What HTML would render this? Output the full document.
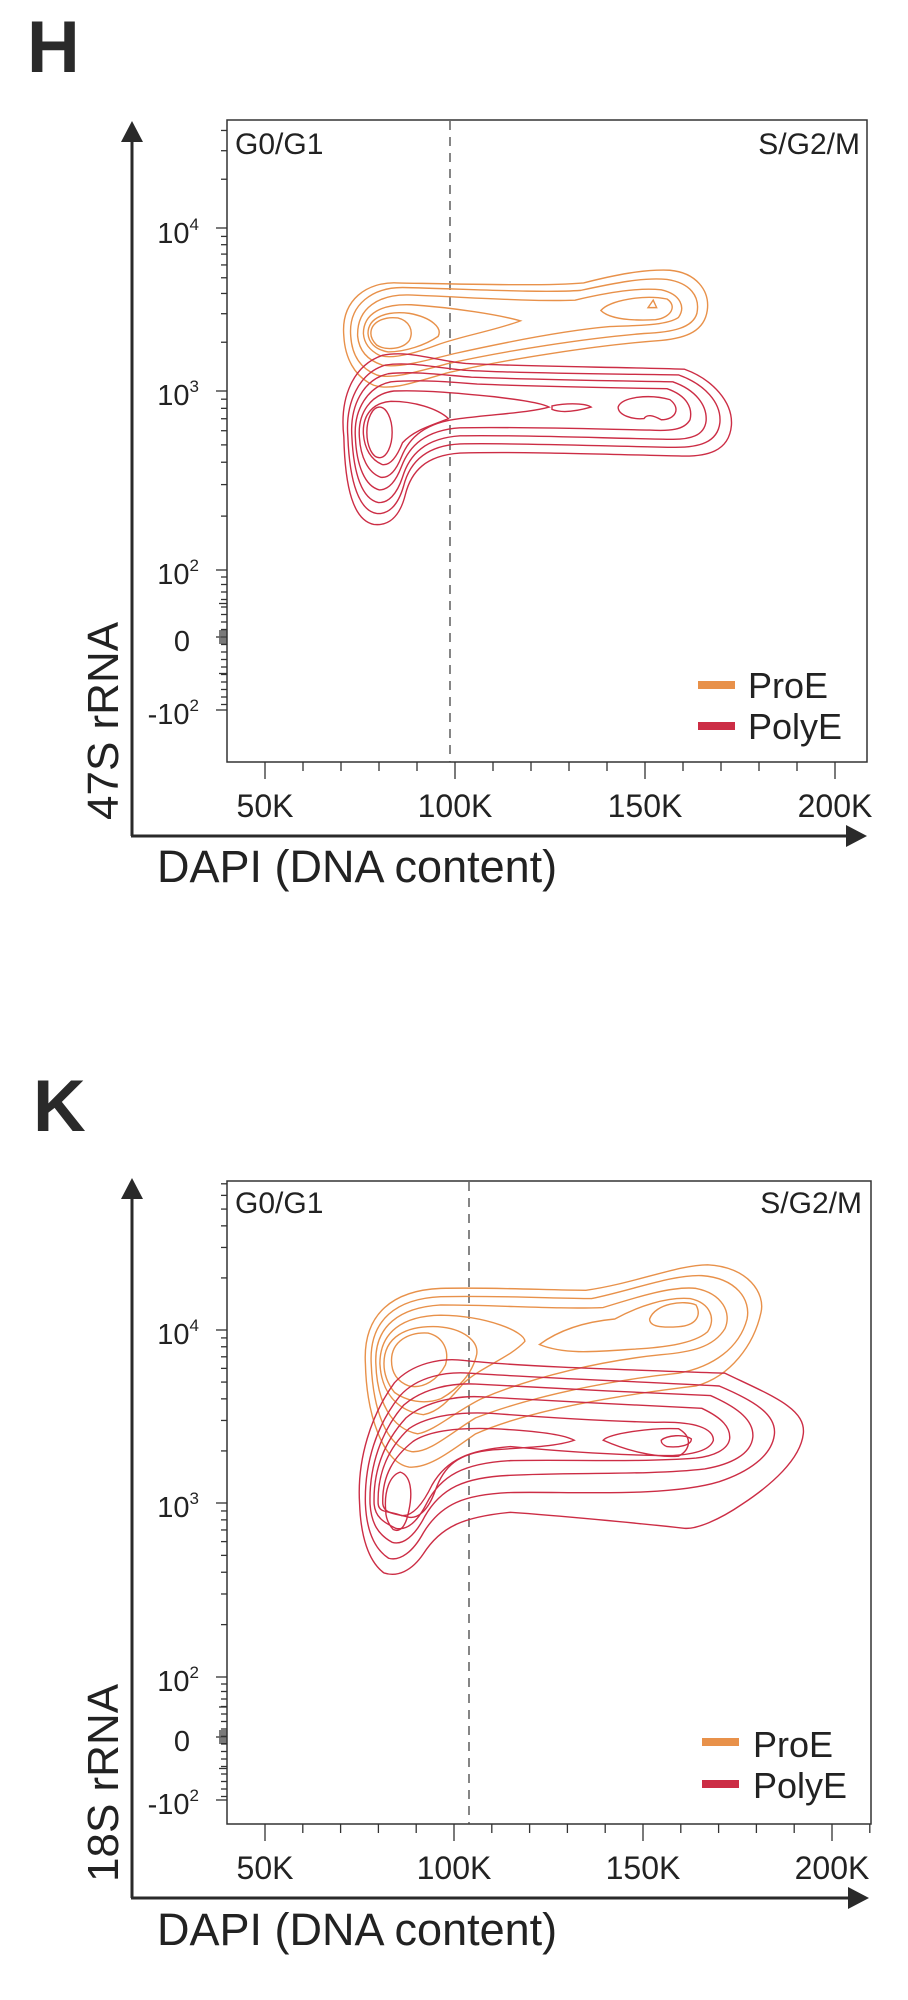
<!DOCTYPE html>
<html><head><meta charset="utf-8"><style>
html,body{margin:0;padding:0;background:#fff;}
svg{display:block;font-family:"Liberation Sans",Arial,sans-serif;}
.o path,.o ellipse{fill:none;stroke:#e8914a;stroke-width:1.4;vector-effect:non-scaling-stroke}
.r path,.r ellipse{fill:none;stroke:#cc2d45;stroke-width:1.4;vector-effect:non-scaling-stroke}
</style></head><body>
<svg id="s" width="908" height="2000" viewBox="0 0 908 2000" xmlns="http://www.w3.org/2000/svg">
<rect width="908" height="2000" fill="#fff"/>
<!-- ===== Panel H ===== -->
<text x="27" y="72" font-size="73" font-weight="bold" fill="#2a2a2a">H</text>
<g id="ticksH" stroke="#333" stroke-width="1.3"></g>
<rect x="227" y="120" width="640" height="642" fill="none" stroke="#333" stroke-width="1.5"/>
<line x1="450" y1="121" x2="450" y2="762" stroke="#444" stroke-width="1.3" stroke-dasharray="9,7"/>
<line x1="132" y1="138" x2="132" y2="836" stroke="#2a2a2a" stroke-width="3"/>
<polygon points="132,121 121,142 143,142" fill="#2a2a2a"/>
<line x1="131" y1="836" x2="850" y2="836" stroke="#2a2a2a" stroke-width="3"/>
<polygon points="867,836 846,825 846,847" fill="#2a2a2a"/>
<g font-size="30" fill="#222">
<text x="235" y="154">G0/G1</text>
<text x="860" y="154" text-anchor="end">S/G2/M</text>
</g>
<g font-size="29" fill="#222" text-anchor="end">
<text x="199" y="243">10<tspan font-size="17" dy="-13">4</tspan></text>
<text x="199" y="405">10<tspan font-size="17" dy="-13">3</tspan></text>
<text x="199" y="584">10<tspan font-size="17" dy="-13">2</tspan></text>
<text x="190" y="651">0</text>
<text x="199" y="724">-10<tspan font-size="17" dy="-13">2</tspan></text>
</g>
<g font-size="32" fill="#222" text-anchor="middle">
<text x="265" y="817">50K</text>
<text x="455" y="817">100K</text>
<text x="645" y="817">150K</text>
<text x="835" y="817">200K</text>
</g>
<text x="157" y="882" font-size="45" fill="#222">DAPI (DNA content)</text>
<text transform="translate(118,820) rotate(-90)" font-size="44" fill="#222">47S rRNA</text>
<rect x="698" y="681" width="37" height="8" fill="#e8914a"/>
<rect x="698" y="722" width="37" height="8" fill="#cc2d45"/>
<g font-size="36" fill="#222">
<text x="748" y="698">ProE</text>
<text x="748" y="739">PolyE</text>
</g>
<g transform="scale(0.575)">
<g class="o">
<path d="M598,585 C592,520 640,490 690,492 C800,494 950,498 1015,492 C1070,478 1120,468 1165,470 C1210,474 1235,505 1230,540 C1225,575 1195,588 1150,592 C1040,600 880,625 780,648 C720,665 680,680 650,670 C615,655 600,620 598,585Z"/>
<path d="M610,585 C605,528 650,500 700,500 C800,502 940,510 1010,505 C1070,492 1120,482 1160,486 C1200,492 1218,515 1212,545 C1205,570 1170,578 1120,580 C1020,588 880,610 780,632 C720,648 680,660 655,652 C625,640 612,615 610,585Z"/>
<path d="M622,585 C620,535 660,512 710,513 C800,516 920,525 1000,522 C1060,508 1110,500 1150,504 C1185,512 1192,535 1180,552 C1160,566 1110,566 1060,568 C980,575 880,595 790,615 C730,630 690,640 665,635 C635,625 624,605 622,585Z"/>
<path d="M632,580 C632,545 665,528 715,530 C790,535 870,548 905,558 C860,575 800,585 760,600 C720,615 680,625 660,618 C640,608 633,595 632,580Z"/>
<path d="M640,580 C640,552 672,540 712,545 C750,552 770,570 762,585 C740,600 705,612 675,612 C652,608 641,595 640,580Z"/>
<path d="M645,580 C645,560 668,550 692,553 C712,558 720,575 712,592 C700,608 670,610 655,600 C648,593 645,587 645,580Z"/>
<path d="M1045,540 C1060,522 1120,512 1160,520 C1178,532 1168,552 1140,556 C1100,558 1060,555 1045,540Z"/>
<path d="M1127,535 L1136,522 L1142,535Z"/>
</g>
<g class="r">
<path d="M598,760 C590,690 615,635 665,618 C710,608 760,628 810,632 C920,638 1070,638 1190,642 C1240,660 1275,700 1272,740 C1268,785 1230,795 1180,793 C1050,790 900,785 800,788 C740,792 715,820 705,860 C695,900 675,915 650,912 C615,905 600,850 598,760Z"/>
<path d="M605,760 C600,700 625,648 670,635 C710,628 760,640 810,644 C920,650 1060,650 1180,652 C1225,668 1255,700 1252,735 C1248,770 1215,778 1175,778 C1050,776 900,770 800,772 C740,775 712,805 702,845 C692,880 675,895 655,893 C625,888 608,840 605,760Z"/>
<path d="M612,760 C608,705 632,660 675,650 C720,645 770,652 820,656 C920,660 1050,662 1170,664 C1210,678 1230,705 1228,732 C1225,758 1200,765 1165,764 C1050,762 900,756 800,758 C740,762 712,790 700,830 C690,860 675,875 658,874 C630,868 615,825 612,760Z"/>
<path d="M618,760 C615,712 640,672 680,664 C730,660 780,664 830,668 C930,672 1040,674 1160,676 C1195,688 1205,710 1200,730 C1190,748 1165,750 1130,748 C1030,746 900,742 800,744 C740,748 712,775 698,812 C688,838 675,852 660,852 C635,846 620,810 618,760Z"/>
<path d="M625,760 C622,718 645,685 685,680 C740,678 800,684 860,690 C900,695 940,700 955,708 C920,718 860,720 800,728 C740,735 712,760 698,795 C688,820 676,832 662,830 C640,822 627,795 625,760Z"/>
<path d="M632,755 C630,720 650,700 680,698 C720,698 760,710 780,728 C750,740 720,748 700,770 C690,795 678,810 665,808 C645,800 634,780 632,755Z"/>
<ellipse cx="660" cy="752" rx="22" ry="44"/>
<path d="M960,706 C990,700 1020,702 1028,708 C1000,716 975,718 960,712Z"/>
<path d="M1075,708 C1080,690 1130,685 1165,695 C1185,710 1175,730 1150,730 C1135,722 1125,720 1120,728 C1100,730 1075,722 1075,708Z"/>
</g>
</g>

<!-- ===== Panel K ===== -->
<text x="33" y="1131" font-size="73" font-weight="bold" fill="#2a2a2a">K</text>
<g id="ticksK" stroke="#333" stroke-width="1.3"></g>
<rect x="227" y="1181" width="644" height="643" fill="none" stroke="#333" stroke-width="1.5"/>
<line x1="469" y1="1182" x2="469" y2="1824" stroke="#444" stroke-width="1.3" stroke-dasharray="9,7"/>
<line x1="132" y1="1195" x2="132" y2="1898" stroke="#2a2a2a" stroke-width="3"/>
<polygon points="132,1178 121,1199 143,1199" fill="#2a2a2a"/>
<line x1="131" y1="1898" x2="852" y2="1898" stroke="#2a2a2a" stroke-width="3"/>
<polygon points="869,1898 848,1887 848,1909" fill="#2a2a2a"/>
<g font-size="30" fill="#222">
<text x="235" y="1213">G0/G1</text>
<text x="862" y="1213" text-anchor="end">S/G2/M</text>
</g>
<g font-size="29" fill="#222" text-anchor="end">
<text x="199" y="1344">10<tspan font-size="17" dy="-13">4</tspan></text>
<text x="199" y="1517">10<tspan font-size="17" dy="-13">3</tspan></text>
<text x="199" y="1691">10<tspan font-size="17" dy="-13">2</tspan></text>
<text x="190" y="1751">0</text>
<text x="199" y="1814">-10<tspan font-size="17" dy="-13">2</tspan></text>
</g>
<g font-size="32" fill="#222" text-anchor="middle">
<text x="265" y="1879">50K</text>
<text x="454" y="1879">100K</text>
<text x="643" y="1879">150K</text>
<text x="832" y="1879">200K</text>
</g>
<text x="157" y="1945" font-size="45" fill="#222">DAPI (DNA content)</text>
<text transform="translate(118,1882) rotate(-90)" font-size="44" fill="#222">18S rRNA</text>
<rect x="702" y="1738" width="37" height="8" fill="#e8914a"/>
<rect x="702" y="1780" width="37" height="8" fill="#cc2d45"/>
<g font-size="36" fill="#222">
<text x="753" y="1757">ProE</text>
<text x="753" y="1798">PolyE</text>
</g>
<g transform="translate(0,1000) scale(0.58,0.638)">
<g class="o">
<path d="M630,570 C625,490 680,455 760,452 C850,450 950,455 1010,455 C1090,445 1170,415 1220,415 C1290,418 1320,460 1312,490 C1300,540 1260,590 1200,605 C1080,618 920,640 820,680 C780,705 740,735 705,732 C660,725 632,650 630,570Z"/>
<path d="M640,570 C636,500 685,468 760,465 C860,463 960,468 1020,468 C1090,455 1160,430 1210,432 C1270,436 1295,470 1288,500 C1275,545 1230,575 1170,585 C1060,595 920,620 820,655 C775,680 740,710 710,708 C665,700 643,640 640,570Z"/>
<path d="M648,570 C645,510 690,482 760,478 C860,478 960,485 1040,482 C1100,465 1160,448 1200,452 C1245,460 1262,490 1250,515 C1230,545 1190,552 1140,556 C1040,565 920,590 830,625 C785,645 750,675 720,680 C675,672 650,630 648,570Z"/>
<path d="M655,570 C655,520 695,495 760,494 C840,495 905,520 905,535 C880,560 830,575 800,600 C780,620 760,645 730,650 C690,645 658,620 655,570Z"/>
<path d="M662,570 C662,528 700,510 755,512 C800,515 825,535 822,555 C815,585 790,610 760,625 C730,635 700,628 680,615 C667,600 662,585 662,570Z"/>
<path d="M675,565 C675,535 705,520 738,522 C765,528 775,550 768,572 C755,595 730,610 705,605 C685,598 675,585 675,565Z"/>
<path d="M930,540 C960,520 1000,505 1060,500 C1100,480 1150,465 1190,468 C1225,475 1235,500 1220,520 C1195,540 1140,545 1080,548 C1020,552 970,555 930,540Z"/>
<path d="M1120,500 C1130,475 1180,470 1200,478 C1210,495 1200,510 1170,512 C1140,514 1120,512 1120,500Z"/>
</g>
<g class="r">
<path d="M620,790 C615,720 640,650 680,600 C710,570 760,560 800,565 C900,575 1100,580 1250,585 C1330,620 1390,640 1385,680 C1380,720 1330,760 1280,790 C1240,815 1200,830 1180,828 C1100,820 960,808 880,803 C800,810 760,825 730,868 C710,895 685,905 662,898 C635,880 622,840 620,790Z"/>
<path d="M630,790 C628,725 650,665 690,620 C720,590 770,582 810,585 C920,592 1100,598 1240,605 C1300,628 1340,650 1335,682 C1330,715 1290,740 1240,755 C1150,780 980,770 880,772 C800,775 760,790 730,835 C712,865 690,880 670,875 C645,860 632,830 630,790Z"/>
<path d="M638,790 C636,730 658,675 696,635 C730,608 780,600 820,602 C930,608 1100,615 1225,620 C1275,640 1300,660 1298,685 C1295,712 1260,728 1215,735 C1120,745 980,740 880,745 C800,748 760,765 732,810 C715,840 695,855 676,850 C652,838 640,820 638,790Z"/>
<path d="M645,790 C643,735 665,690 700,655 C735,628 790,620 830,622 C940,628 1100,635 1210,640 C1245,655 1260,670 1258,688 C1255,705 1230,715 1200,718 C1100,725 980,720 880,722 C800,726 760,745 735,790 C718,820 700,832 682,828 C660,818 647,810 645,790Z"/>
<path d="M652,790 C650,740 672,700 705,672 C740,650 800,645 850,648 C950,655 1050,660 1130,662 C1200,660 1230,672 1230,690 C1225,705 1200,712 1160,714 C1060,714 950,706 880,700 C810,705 770,720 745,760 C728,792 710,810 692,808 C670,800 654,805 652,790Z"/>
<path d="M660,790 C658,745 680,715 712,692 C740,675 790,670 850,672 C920,675 970,680 990,690 C960,700 900,702 850,705 C790,710 765,730 750,770 C738,800 720,815 702,810 C680,805 662,805 660,790Z"/>
<path d="M665,800 C662,770 672,745 690,740 C708,745 712,770 705,800 C700,825 690,835 678,830 C668,820 665,810 665,800Z"/>
<path d="M1040,690 C1050,680 1120,670 1170,672 C1195,685 1190,705 1170,715 C1130,718 1080,706 1040,690Z"/>
<path d="M1140,690 C1150,682 1180,680 1192,688 C1192,698 1170,702 1150,700 C1142,697 1140,694 1140,690Z"/>
</g>
</g>
</svg>
<script>
(function(){
function L(g,x1,y1,x2,y2){g.insertAdjacentHTML('beforeend','<line x1="'+x1+'" y1="'+y1+'" x2="'+x2+'" y2="'+y2+'"/>');}
function ticks(id,c){
 var g=document.getElementById(id);
 var left=227;
 c.maj.forEach(function(y){L(g,left-11,y,left,y);});
 function dec(y0,d,lo){for(var k=2;k<=9;k++){var y=y0-d*Math.log10(k);if(y>lo)L(g,left-6,y,left,y);}}
 dec(c.maj[0],c.d1,c.top+2);
 dec(c.maj[1],c.d1,0);
 dec(c.maj[2],c.d2,0);
 for(var y=c.maj[2]+7;y<c.maj[4]-2;y+=7.5){L(g,left-6,y,left,y);}
 for(var y=c.maj[3]-6;y<=c.maj[3]+6;y+=2){L(g,left-8,y,left,y);}
 L(g,left-8,(c.maj[2]+c.maj[3])/2,left,(c.maj[2]+c.maj[3])/2);
 L(g,left-8,(c.maj[3]+c.maj[4])/2,left,(c.maj[3]+c.maj[4])/2);
 for(var i=-1;i<=16;i++){var x=c.x50+i*c.dx;if(x<=left+1||x>=c.right)continue;
  L(g,x,c.bot,x,c.bot+(i%5==0?17:9));}
}
ticks('ticksH',{maj:[228,391,570,637,710],d1:162,d2:179,top:120,x50:265,dx:38,bot:762,right:867});
ticks('ticksK',{maj:[1330,1503,1677,1737,1800],d1:173,d2:174,top:1181,x50:265,dx:37.8,bot:1824,right:871});
})();
</script>
</body></html>
